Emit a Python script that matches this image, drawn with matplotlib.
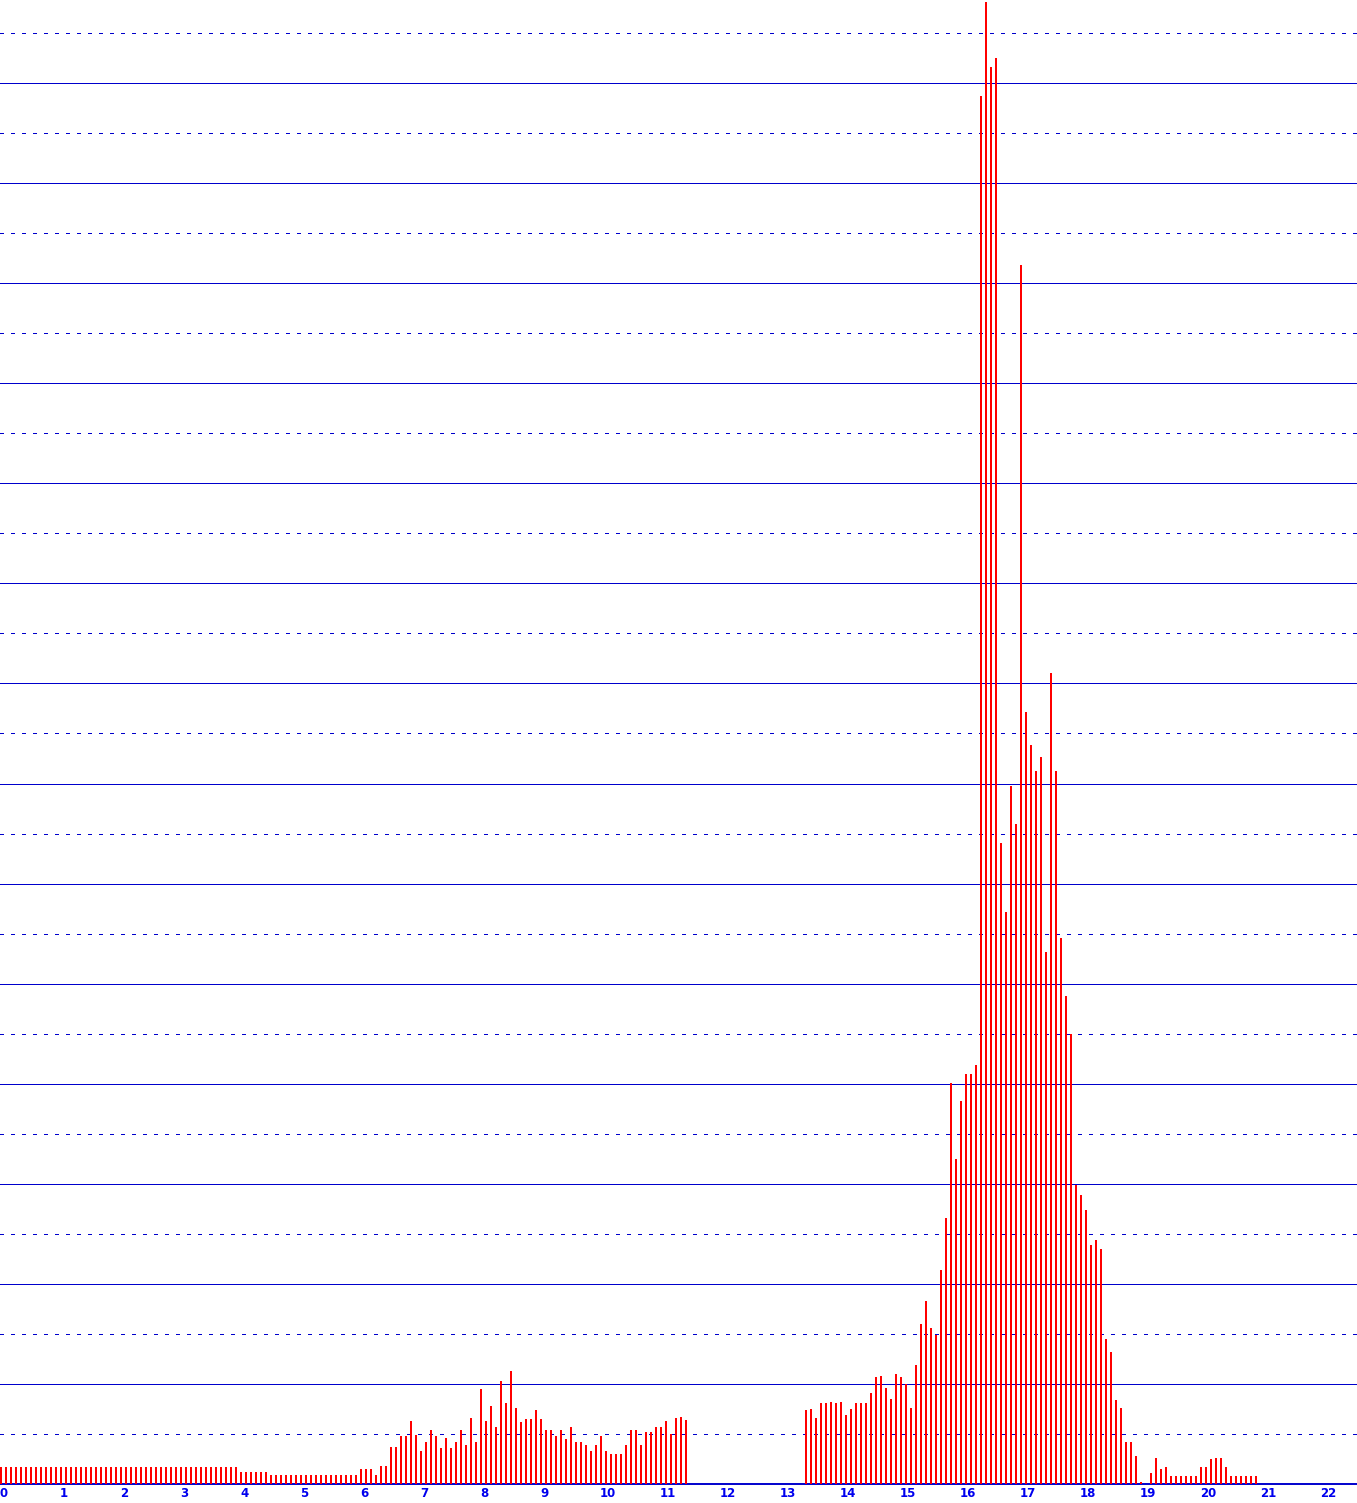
import numpy as np
import matplotlib
matplotlib.use("Agg")
import matplotlib.pyplot as plt

# Counts per 5-minute slot (slot 0 = 00:00)
counts = [
    17, 17, 17, 17, 17, 17, 17, 17, 17, 17, 17, 17,   # 0h
    17, 17, 17, 17, 17, 17, 17, 17, 17, 17, 17, 17,   # 1h
    17, 17, 17, 17, 17, 17, 17, 17, 17, 17, 17, 17,   # 2h
    17, 17, 17, 17, 17, 17, 17, 17, 17, 17, 17, 17,   # 3h
    12, 12, 12, 12, 12, 12, 9, 9, 9, 9, 9, 9,         # 4h
    9, 9, 9, 9, 9, 9, 9, 9, 9, 9, 9, 9,               # 5h
    15, 15, 15, 9, 18, 18, 37, 37, 48, 48, 63, 49,    # 6h
    33, 42, 54, 48, 36, 46, 36, 42, 54, 39, 66, 42,   # 7h
    95, 63, 78, 57, 103, 81, 113, 76, 62, 65, 65, 74, # 8h
    65, 54, 54, 48, 54, 45, 57, 42, 42, 39, 33, 39,   # 9h
    48, 33, 30, 30, 30, 39, 54, 54, 39, 52, 52, 57,   # 10h
    57, 63, 50, 66, 67, 64, 0, 0, 0, 0, 0, 0,         # 11h
    0, 0, 0, 0, 0, 0, 0, 0, 0, 0, 0, 0,               # 12h
    0, 0, 0, 0, 0, 74, 75, 66, 81, 81, 82, 81,        # 13h
    82, 69, 75, 81, 81, 81, 91, 107, 108, 96, 85, 110,  # 14h
    107, 100, 76, 119, 160, 183, 156, 149, 214, 266, 401, 325,  # 15h
    383, 410, 410, 419, 1387, 1481, 1416, 1425, 641, 572, 698, 660,  # 16h
    1218, 771, 739, 713, 727, 532, 810, 713, 546, 488, 450, 299,  # 17h
    289, 274, 239, 244, 235, 145, 132, 84, 76, 42, 42, 28,  # 18h
    2, 0, 11, 26, 15, 17, 8, 8, 8, 8, 8, 8,           # 19h
    17, 17, 25, 26, 26, 17, 8, 8, 8, 8, 8, 8,         # 20h
]
slot_minutes = [5 * i for i in range(len(counts))]
hour_labels = [str(h) for h in range(23)]

GRID_BLUE = "#0000cc"
LABEL_BLUE = "#0000ee"
BAR_RED = "#ff0000"

W, H, DPI = 1357, 1503, 100
fig = plt.figure(figsize=(W / DPI, H / DPI), dpi=DPI)
base_px = 1484
ax = fig.add_axes([0, (H - base_px) / H, 1, base_px / H])

x_hours = np.array(slot_minutes) / 60.0
ax.bar(x_hours, counts, width=2 / 60, align="edge", color=BAR_RED,
       linewidth=0, antialiased=False, zorder=3)

ax.set_xlim(0, W / 60)
ax.set_ylim(0, base_px - 1)

# horizontal grid: solid every 100, dotted in between
for k in range(1, 30):
    y = 50 * k
    if k % 2 == 0:
        ax.axhline(y, color=GRID_BLUE, lw=0.72, zorder=1, antialiased=False)
    else:
        ax.axhline(y, color=GRID_BLUE, lw=0.72, linestyle=(0, (3, 7)),
                   zorder=1, antialiased=False)

for s in ["top", "right", "left"]:
    ax.spines[s].set_visible(False)
ax.spines["bottom"].set_color(GRID_BLUE)
ax.spines["bottom"].set_linewidth(1.4)

ax.set_yticks([])
ax.set_xticks(range(len(hour_labels)))
ax.set_xticklabels(hour_labels, ha="left", color=LABEL_BLUE, fontsize=8.5,
                   fontweight="bold", family="DejaVu Sans")
ax.tick_params(axis="x", length=0, pad=2)

fig.savefig("out.png", dpi=DPI)
